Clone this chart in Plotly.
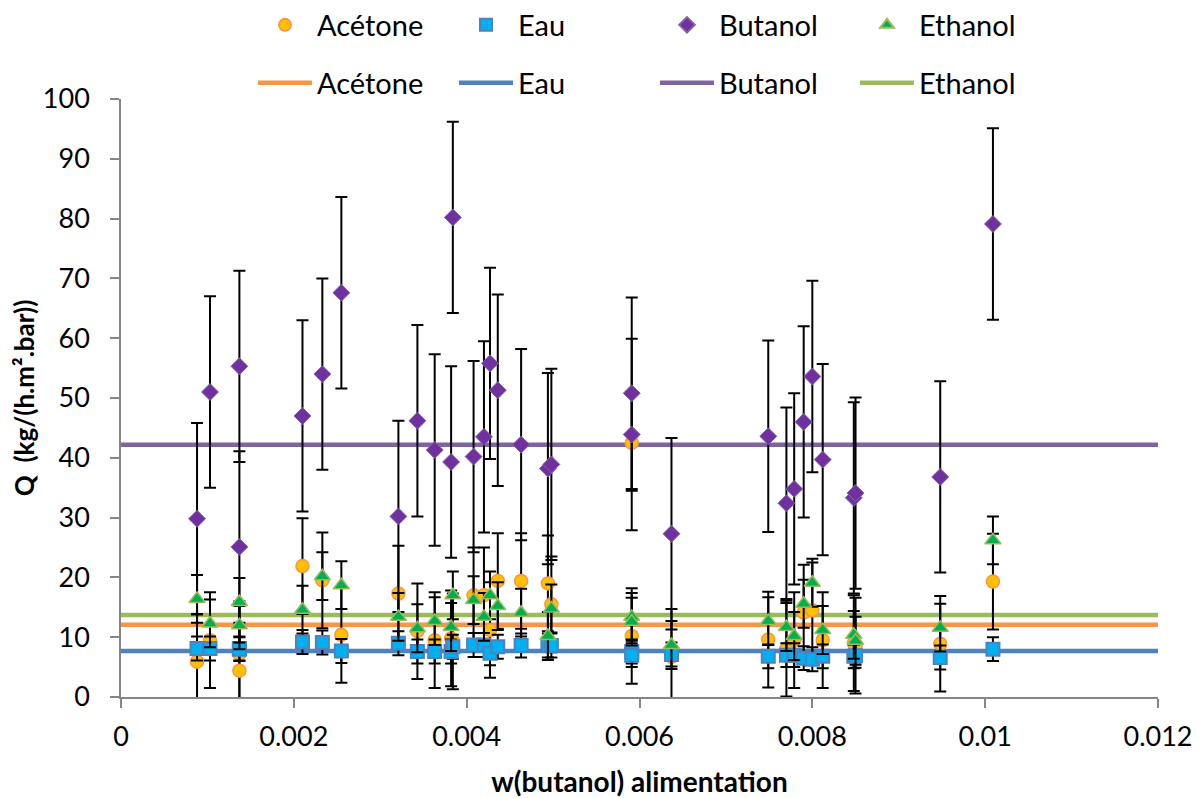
import plotly.graph_objects as go

# --- data ---
w_butanol = [0.00088, 0.00103, 0.00137, 0.00137, 0.00210, 0.00233, 0.00255, 0.00321,
             0.00343, 0.00363, 0.00382, 0.00384, 0.00408, 0.00420, 0.00427, 0.00436,
             0.00463, 0.00494, 0.00498, 0.00591, 0.00591, 0.00637, 0.00749, 0.00770,
             0.00779, 0.00790, 0.00800, 0.00812, 0.00848, 0.00850, 0.00948, 0.01009]
q_acetone = [5.9, 9.5, 4.4, 7.2, 21.9, 19.5, 10.4, 17.3,
             11.0, 9.5, 9.8, 9.3, 17.0, 17.0, 11.2, 19.4,
             19.4, 19.0, 15.5, 42.5, 10.2, 6.7, 9.6, 8.1,
             9.5, 14.1, 14.5, 9.5, 9.0, 8.6, 8.9, 19.3]
q_eau = [8.1, 8.1, 8.1, 8.0, 9.2, 9.1, 7.7, 9.0,
         7.6, 7.6, 7.6, 8.4, 8.7, 8.7, 7.3, 8.4,
         8.6, 8.6, 8.6, 7.6, 7.0, 7.1, 6.8, 7.0,
         7.0, 6.5, 6.3, 6.8, 6.8, 6.9, 6.6, 8.0]
q_butanol = [29.8, 51.0, 55.3, 25.1, 47.0, 54.0, 67.6, 30.2,
             46.2, 41.3, 39.3, 80.2, 40.2, 43.5, 55.8, 51.3,
             42.2, 38.2, 38.9, 50.8, 43.9, 27.3, 43.6, 32.4,
             34.8, 46.0, 53.6, 39.7, 33.3, 34.1, 36.8, 79.1]
q_ethanol = [16.4, 12.3, 15.9, 12.0, 14.6, 20.2, 18.7, 13.4,
             11.5, 12.7, 11.7, 17.0, 16.2, 13.4, 17.0, 15.2,
             14.1, 10.2, 14.8, 13.4, 12.6, 8.7, 12.7, 11.7,
             10.2, 15.6, 19.1, 11.2, 10.4, 9.4, 11.6, 26.2]

# error bar half-widths
err_acetone = 8.0
err_eau = 2.0
err_butanol = 16.0
err_ethanol = 4.0

# horizontal reference levels
series_names = ["Acétone", "Eau", "Butanol", "Ethanol"]
level_values = [12.1, 7.7, 42.2, 13.7]
x_span = [0, 0.012]

x_ticks = [0, 0.002, 0.004, 0.006, 0.008, 0.01, 0.012]
x_tick_labels = ["0", "0.002", "0.004", "0.006", "0.008", "0.01", "0.012"]
y_ticks = [0, 10, 20, 30, 40, 50, 60, 70, 80, 90, 100]

# --- styles ---
line_colors = ["#F79646", "#4F81BD", "#8064A2", "#9BBB59"]
marker_fill = ["#FFC000", "#00B0F0", "#7030A0", "#00B050"]
marker_edge = ["#F79646", "#4F81BD", "#8064A2", "#9BBB59"]
marker_symbol = ["circle", "square", "diamond", "triangle-up"]
marker_size = [13, 13, 13, 14]
marker_edge_w = [1.5, 2, 1, 1.5]
FONT = "Lato"

fig = go.Figure()

# reference lines first (below markers)
for i, name in enumerate(series_names):
    fig.add_trace(go.Scatter(
        x=x_span, y=[level_values[i], level_values[i]], mode="lines", name=name,
        line=dict(color=line_colors[i], width=4.5),
        legend="legend%d" % (5 + i), hoverinfo="skip"))

values = [q_acetone, q_eau, q_butanol, q_ethanol]
errors = [err_acetone, err_eau, err_butanol, err_ethanol]
for i, name in enumerate(series_names):
    fig.add_trace(go.Scatter(
        x=w_butanol, y=values[i], mode="markers", name=name,
        marker=dict(symbol=marker_symbol[i], size=marker_size[i], color=marker_fill[i],
                    line=dict(color=marker_edge[i], width=marker_edge_w[i])),
        error_y=dict(type="constant", value=errors[i], color="black", thickness=2, width=6),
        legend=("legend" if i == 0 else "legend%d" % (1 + i))))

# the page adds an 8px body margin, so the figure is sized to fit the window
W, H = 1195, 790
text_starts = [318, 519, 720, 920]
legend_layouts = {}
for i in range(4):
    key = "legend" if i == 0 else "legend%d" % (1 + i)
    legend_layouts[key] = dict(
        x=(text_starts[i] - 73) / W, y=1 - 17 / H, xref="container", yref="container",
        xanchor="left", yanchor="middle", orientation="h", itemwidth=54,
        itemsizing="constant",
        bgcolor="rgba(0,0,0,0)", font=dict(family=FONT, size=29, color="black"))
    key2 = "legend%d" % (5 + i)
    legend_layouts[key2] = dict(
        x=(text_starts[i] - 73) / W, y=1 - 75 / H, xref="container", yref="container",
        xanchor="left", yanchor="middle", orientation="h", itemwidth=54,
        bgcolor="rgba(0,0,0,0)", font=dict(family=FONT, size=29, color="black"))

fig.update_layout(
    width=W, height=H,
    margin=dict(l=113, r=45, t=91, b=101, autoexpand=False),
    plot_bgcolor="white", paper_bgcolor="white",
    font=dict(family=FONT, size=27, color="black"),
    showlegend=True,
    **legend_layouts,
)

fig.update_xaxes(
    range=[0, 0.012], tickvals=x_ticks, ticktext=x_tick_labels,
    showgrid=False, zeroline=False, showline=True, linecolor="#868686", linewidth=1.5,
    ticks="outside", ticklen=9, tickcolor="#868686", tickwidth=1.5, ticklabelstandoff=6,
    tickfont=dict(family=FONT, size=27, color="black"),
    title=dict(text="<b>w(butanol) alimentation</b>", font=dict(family=FONT, size=28, color="black"), standoff=33),
)
fig.update_yaxes(
    range=[0, 100], tickvals=y_ticks,
    showgrid=False, zeroline=False, showline=True, linecolor="#868686", linewidth=1.5,
    ticks="outside", ticklen=9, tickcolor="#868686", tickwidth=1.5, ticklabelstandoff=15,
    tickfont=dict(family=FONT, size=27, color="black"),
    title=dict(text="<b>Q  (kg/(h.m².bar))</b>", font=dict(family=FONT, size=26, color="black"), standoff=10),
)

fig.write_html("out.html")
